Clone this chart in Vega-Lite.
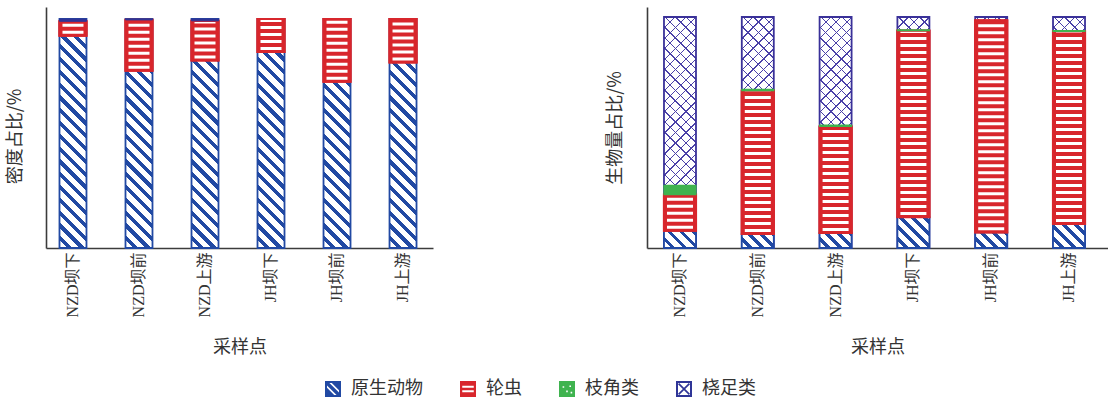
{
  "$schema": "https://vega.github.io/schema/vega-lite/v6.json",
  "background": "white",
  "padding": {"left": 6, "top": 7, "right": 0, "bottom": 0},
  "datasets": {
    "density": [
      {"site": "NZD坝下", "taxon": "原生动物", "value": 92.7},
      {"site": "NZD坝下", "taxon": "轮虫", "value": 6.3},
      {"site": "NZD坝下", "taxon": "桡足类", "value": 1.0},
      {"site": "NZD坝前", "taxon": "原生动物", "value": 77.4},
      {"site": "NZD坝前", "taxon": "轮虫", "value": 22.2},
      {"site": "NZD坝前", "taxon": "桡足类", "value": 0.4},
      {"site": "NZD上游", "taxon": "原生动物", "value": 81.9},
      {"site": "NZD上游", "taxon": "轮虫", "value": 17.3},
      {"site": "NZD上游", "taxon": "桡足类", "value": 0.8},
      {"site": "JH坝下", "taxon": "原生动物", "value": 85.6},
      {"site": "JH坝下", "taxon": "轮虫", "value": 14.4},
      {"site": "JH坝前", "taxon": "原生动物", "value": 72.6},
      {"site": "JH坝前", "taxon": "轮虫", "value": 27.4},
      {"site": "JH上游", "taxon": "原生动物", "value": 81.0},
      {"site": "JH上游", "taxon": "轮虫", "value": 19.0}
    ],
    "biomass": [
      {"site": "NZD坝下", "taxon": "原生动物", "value": 7.5},
      {"site": "NZD坝下", "taxon": "轮虫", "value": 15.6},
      {"site": "NZD坝下", "taxon": "枝角类", "value": 4.0},
      {"site": "NZD坝下", "taxon": "桡足类", "value": 72.9},
      {"site": "NZD坝前", "taxon": "原生动物", "value": 6.1},
      {"site": "NZD坝前", "taxon": "轮虫", "value": 62.0},
      {"site": "NZD坝前", "taxon": "枝角类", "value": 0.6},
      {"site": "NZD坝前", "taxon": "桡足类", "value": 31.3},
      {"site": "NZD上游", "taxon": "原生动物", "value": 6.5},
      {"site": "NZD上游", "taxon": "轮虫", "value": 46.1},
      {"site": "NZD上游", "taxon": "枝角类", "value": 0.6},
      {"site": "NZD上游", "taxon": "桡足类", "value": 46.8},
      {"site": "JH坝下", "taxon": "原生动物", "value": 13.4},
      {"site": "JH坝下", "taxon": "轮虫", "value": 80.7},
      {"site": "JH坝下", "taxon": "枝角类", "value": 0.3},
      {"site": "JH坝下", "taxon": "桡足类", "value": 5.6},
      {"site": "JH坝前", "taxon": "原生动物", "value": 6.8},
      {"site": "JH坝前", "taxon": "轮虫", "value": 91.7},
      {"site": "JH坝前", "taxon": "桡足类", "value": 1.5},
      {"site": "JH上游", "taxon": "原生动物", "value": 10.4},
      {"site": "JH上游", "taxon": "轮虫", "value": 83.4},
      {"site": "JH上游", "taxon": "枝角类", "value": 0.3},
      {"site": "JH上游", "taxon": "桡足类", "value": 5.9}
    ]
  },
  "spacing": 173,
  "hconcat": [
    {
      "width": 387,
      "height": 241,
      "data": {"name": "density"},
      "transform": [{"stack": "value", "groupby": ["site"], "as": ["v0", "v1"]}],
      "encoding": {
        "x": {
          "field": "site", "type": "nominal", "sort": null,
          "scale": {"paddingInner": 0.591, "paddingOuter": 0.227, "align": 0.45},
          "axis": {"title": "采样点", "labelAngle": 270, "labelPadding": 4, "titlePadding": 22, "labelOverlap": false}
        },
        "y": {
          "field": "v0", "type": "quantitative",
          "scale": {"domain": [0, 105.24], "nice": false},
          "axis": {"title": "密度占比/%", "labels": false, "titlePadding": 22, "titleY": 129}
        }
      },
      "layer": [
        {
          "transform": [{"filter": "datum.taxon === '原生动物'"}],
          "mark": {
            "type": "bar", "width": 27, "stroke": "#2149a3", "strokeWidth": 1.8,
            "fill": {"gradient": "linear", "x1": 0, "y1": 1, "x2": 0.13, "y2": -0.1025, "stops": [
              {"offset": 0, "color": "#ffffff"}, {"offset": 0.03, "color": "#ffffff"}, {"offset": 0.03, "color": "#2149a3"}, {"offset": 0.05, "color": "#2149a3"},
              {"offset": 0.05, "color": "#ffffff"}, {"offset": 0.08, "color": "#ffffff"}, {"offset": 0.08, "color": "#2149a3"}, {"offset": 0.1, "color": "#2149a3"},
              {"offset": 0.1, "color": "#ffffff"}, {"offset": 0.13, "color": "#ffffff"}, {"offset": 0.13, "color": "#2149a3"}, {"offset": 0.15, "color": "#2149a3"},
              {"offset": 0.15, "color": "#ffffff"}, {"offset": 0.18, "color": "#ffffff"}, {"offset": 0.18, "color": "#2149a3"}, {"offset": 0.2, "color": "#2149a3"},
              {"offset": 0.2, "color": "#ffffff"}, {"offset": 0.23, "color": "#ffffff"}, {"offset": 0.23, "color": "#2149a3"}, {"offset": 0.25, "color": "#2149a3"},
              {"offset": 0.25, "color": "#ffffff"}, {"offset": 0.28, "color": "#ffffff"}, {"offset": 0.28, "color": "#2149a3"}, {"offset": 0.3, "color": "#2149a3"},
              {"offset": 0.3, "color": "#ffffff"}, {"offset": 0.33, "color": "#ffffff"}, {"offset": 0.33, "color": "#2149a3"}, {"offset": 0.35, "color": "#2149a3"},
              {"offset": 0.35, "color": "#ffffff"}, {"offset": 0.38, "color": "#ffffff"}, {"offset": 0.38, "color": "#2149a3"}, {"offset": 0.4, "color": "#2149a3"},
              {"offset": 0.4, "color": "#ffffff"}, {"offset": 0.43, "color": "#ffffff"}, {"offset": 0.43, "color": "#2149a3"}, {"offset": 0.45, "color": "#2149a3"},
              {"offset": 0.45, "color": "#ffffff"}, {"offset": 0.48, "color": "#ffffff"}, {"offset": 0.48, "color": "#2149a3"}, {"offset": 0.5, "color": "#2149a3"},
              {"offset": 0.5, "color": "#ffffff"}, {"offset": 0.53, "color": "#ffffff"}, {"offset": 0.53, "color": "#2149a3"}, {"offset": 0.55, "color": "#2149a3"},
              {"offset": 0.55, "color": "#ffffff"}, {"offset": 0.58, "color": "#ffffff"}, {"offset": 0.58, "color": "#2149a3"}, {"offset": 0.6, "color": "#2149a3"},
              {"offset": 0.6, "color": "#ffffff"}, {"offset": 0.63, "color": "#ffffff"}, {"offset": 0.63, "color": "#2149a3"}, {"offset": 0.65, "color": "#2149a3"},
              {"offset": 0.65, "color": "#ffffff"}, {"offset": 0.68, "color": "#ffffff"}, {"offset": 0.68, "color": "#2149a3"}, {"offset": 0.7, "color": "#2149a3"},
              {"offset": 0.7, "color": "#ffffff"}, {"offset": 0.73, "color": "#ffffff"}, {"offset": 0.73, "color": "#2149a3"}, {"offset": 0.75, "color": "#2149a3"},
              {"offset": 0.75, "color": "#ffffff"}, {"offset": 0.78, "color": "#ffffff"}, {"offset": 0.78, "color": "#2149a3"}, {"offset": 0.8, "color": "#2149a3"},
              {"offset": 0.8, "color": "#ffffff"}, {"offset": 0.83, "color": "#ffffff"}, {"offset": 0.83, "color": "#2149a3"}, {"offset": 0.85, "color": "#2149a3"},
              {"offset": 0.85, "color": "#ffffff"}, {"offset": 0.88, "color": "#ffffff"}, {"offset": 0.88, "color": "#2149a3"}, {"offset": 0.9, "color": "#2149a3"},
              {"offset": 0.9, "color": "#ffffff"}, {"offset": 0.93, "color": "#ffffff"}, {"offset": 0.93, "color": "#2149a3"}, {"offset": 0.95, "color": "#2149a3"},
              {"offset": 0.95, "color": "#ffffff"}, {"offset": 0.98, "color": "#ffffff"}, {"offset": 0.98, "color": "#2149a3"}, {"offset": 1, "color": "#2149a3"}
            ]}
          },
          "encoding": {"y2": {"datum": 100}}
        },
        {
          "transform": [{"filter": "datum.taxon === '轮虫'"}],
          "mark": {"type": "bar", "width": 27, "fill": "#d8262c", "stroke": "#d8262c", "strokeWidth": 2},
          "encoding": {"y2": {"field": "v1"}}
        },
        {
          "transform": [{"filter": "datum.taxon === '轮虫'"}],
          "mark": {"type": "rule", "color": "#ffffff", "strokeWidth": 21, "strokeDash": [3, 4], "strokeDashOffset": 5},
          "encoding": {"y2": {"field": "v1"}}
        },
        {
          "transform": [{"filter": "datum.taxon === '轮虫'"}],
          "mark": {"type": "bar", "width": 27, "fill": "#d8262c", "fillOpacity": 0, "stroke": "#d8262c", "strokeWidth": 2.2},
          "encoding": {"y2": {"field": "v1"}}
        },
        {
          "transform": [{"filter": "datum.taxon === '桡足类'"}],
          "mark": {"type": "bar", "width": 27, "fill": "#2f3597", "stroke": "#2f3597", "strokeWidth": 1},
          "encoding": {"y2": {"field": "v1"}}
        },
        {
          "mark": {"type": "point", "filled": true, "opacity": 1, "clip": true, "yOffset": 800},
          "encoding": {
            "fill": {
              "field": "taxon", "type": "nominal",
              "scale": {"domain": ["原生动物", "轮虫", "枝角类", "桡足类"], "range": ["#2149a3", "#d8262c", "#3fb34f", "#2f3597"]},
              "legend": {
                "title": null, "orient": "none", "legendX": 278, "legendY": 373, "direction": "horizontal",
                "symbolSize": 256, "symbolOpacity": 1, "symbolStrokeWidth": 0,
                "labelFont": "Noto Sans CJK SC", "labelFontSize": 18, "labelColor": "#333333", "labelOffset": 9, "columnPadding": 36
              }
            },
            "shape": {
              "field": "taxon", "type": "nominal",
              "scale": {
                "domain": ["原生动物", "轮虫", "枝角类", "桡足类"],
                "range": [
                  "M-1,-1H1V1H-1Z M0.75,0.45L0.75,0.15L-0.15,-0.75L-0.45,-0.75Z M-0.75,-0.45L-0.75,-0.15L0.15,0.75L0.45,0.75Z",
                  "M-1,-1H1V1H-1Z M-0.72,-0.42V-0.16H0.72V-0.42Z M-0.72,0.16V0.42H0.72V0.16Z",
                  "M-1,-1H1V1H-1Z M-0.55,-0.35v0.2h0.2v-0.2Z M0.3,-0.45v0.2h0.2v-0.2Z M-0.1,0.2v0.2h0.2v-0.2Z M0.45,0.35v0.2h0.2v-0.2Z",
                  "M-1,-1H1V1H-1Z M-0.75,-0.75V0.75H0.75V-0.75Z M-0.75,-0.6L-0.6,-0.75L0.75,0.6L0.6,0.75Z M0.6,-0.75L0.75,-0.6L-0.6,0.75L-0.75,0.6Z"
                ]
              }
            }
          }
        }
      ]
    },
    {
      "width": 461,
      "height": 241,
      "data": {"name": "biomass"},
      "transform": [{"stack": "value", "groupby": ["site"], "as": ["v0", "v1"]}],
      "encoding": {
        "x": {
          "field": "site", "type": "nominal", "sort": null,
          "scale": {"paddingInner": 0.589, "paddingOuter": 0.257, "align": 0.425},
          "axis": {"title": "采样点", "labelAngle": 270, "labelPadding": 4, "titlePadding": 22, "labelOverlap": false}
        },
        "y": {
          "field": "v0", "type": "quantitative",
          "scale": {"domain": [0, 104.33], "nice": false},
          "axis": {"title": "生物量占比/%", "labels": false, "titlePadding": 23}
        }
      },
      "layer": [
        {
          "transform": [{"filter": "datum.taxon === '原生动物'"}],
          "mark": {
            "type": "bar", "width": 32, "strokeWidth": 0,
            "fill": {"gradient": "linear", "x1": 0, "y1": 1, "x2": 0.15475, "y2": -0.11711, "stops": [
              {"offset": 0, "color": "#4a40a8"}, {"offset": 0.005, "color": "#4a40a8"}, {"offset": 0.005, "color": "#ffffff"}, {"offset": 0.04, "color": "#ffffff"},
              {"offset": 0.04, "color": "#4a40a8"}, {"offset": 0.045, "color": "#4a40a8"}, {"offset": 0.045, "color": "#ffffff"}, {"offset": 0.08, "color": "#ffffff"},
              {"offset": 0.08, "color": "#4a40a8"}, {"offset": 0.085, "color": "#4a40a8"}, {"offset": 0.085, "color": "#ffffff"}, {"offset": 0.12, "color": "#ffffff"},
              {"offset": 0.12, "color": "#4a40a8"}, {"offset": 0.125, "color": "#4a40a8"}, {"offset": 0.125, "color": "#ffffff"}, {"offset": 0.16, "color": "#ffffff"},
              {"offset": 0.16, "color": "#4a40a8"}, {"offset": 0.165, "color": "#4a40a8"}, {"offset": 0.165, "color": "#ffffff"}, {"offset": 0.2, "color": "#ffffff"},
              {"offset": 0.2, "color": "#4a40a8"}, {"offset": 0.205, "color": "#4a40a8"}, {"offset": 0.205, "color": "#ffffff"}, {"offset": 0.24, "color": "#ffffff"},
              {"offset": 0.24, "color": "#4a40a8"}, {"offset": 0.245, "color": "#4a40a8"}, {"offset": 0.245, "color": "#ffffff"}, {"offset": 0.28, "color": "#ffffff"},
              {"offset": 0.28, "color": "#4a40a8"}, {"offset": 0.285, "color": "#4a40a8"}, {"offset": 0.285, "color": "#ffffff"}, {"offset": 0.32, "color": "#ffffff"},
              {"offset": 0.32, "color": "#4a40a8"}, {"offset": 0.325, "color": "#4a40a8"}, {"offset": 0.325, "color": "#ffffff"}, {"offset": 0.36, "color": "#ffffff"},
              {"offset": 0.36, "color": "#4a40a8"}, {"offset": 0.365, "color": "#4a40a8"}, {"offset": 0.365, "color": "#ffffff"}, {"offset": 0.4, "color": "#ffffff"},
              {"offset": 0.4, "color": "#4a40a8"}, {"offset": 0.405, "color": "#4a40a8"}, {"offset": 0.405, "color": "#ffffff"}, {"offset": 0.44, "color": "#ffffff"},
              {"offset": 0.44, "color": "#4a40a8"}, {"offset": 0.445, "color": "#4a40a8"}, {"offset": 0.445, "color": "#ffffff"}, {"offset": 0.48, "color": "#ffffff"},
              {"offset": 0.48, "color": "#4a40a8"}, {"offset": 0.485, "color": "#4a40a8"}, {"offset": 0.485, "color": "#ffffff"}, {"offset": 0.52, "color": "#ffffff"},
              {"offset": 0.52, "color": "#4a40a8"}, {"offset": 0.525, "color": "#4a40a8"}, {"offset": 0.525, "color": "#ffffff"}, {"offset": 0.56, "color": "#ffffff"},
              {"offset": 0.56, "color": "#4a40a8"}, {"offset": 0.565, "color": "#4a40a8"}, {"offset": 0.565, "color": "#ffffff"}, {"offset": 0.6, "color": "#ffffff"},
              {"offset": 0.6, "color": "#4a40a8"}, {"offset": 0.605, "color": "#4a40a8"}, {"offset": 0.605, "color": "#ffffff"}, {"offset": 0.64, "color": "#ffffff"},
              {"offset": 0.64, "color": "#4a40a8"}, {"offset": 0.645, "color": "#4a40a8"}, {"offset": 0.645, "color": "#ffffff"}, {"offset": 0.68, "color": "#ffffff"},
              {"offset": 0.68, "color": "#4a40a8"}, {"offset": 0.685, "color": "#4a40a8"}, {"offset": 0.685, "color": "#ffffff"}, {"offset": 0.72, "color": "#ffffff"},
              {"offset": 0.72, "color": "#4a40a8"}, {"offset": 0.725, "color": "#4a40a8"}, {"offset": 0.725, "color": "#ffffff"}, {"offset": 0.76, "color": "#ffffff"},
              {"offset": 0.76, "color": "#4a40a8"}, {"offset": 0.765, "color": "#4a40a8"}, {"offset": 0.765, "color": "#ffffff"}, {"offset": 0.8, "color": "#ffffff"},
              {"offset": 0.8, "color": "#4a40a8"}, {"offset": 0.805, "color": "#4a40a8"}, {"offset": 0.805, "color": "#ffffff"}, {"offset": 0.84, "color": "#ffffff"},
              {"offset": 0.84, "color": "#4a40a8"}, {"offset": 0.845, "color": "#4a40a8"}, {"offset": 0.845, "color": "#ffffff"}, {"offset": 0.88, "color": "#ffffff"},
              {"offset": 0.88, "color": "#4a40a8"}, {"offset": 0.885, "color": "#4a40a8"}, {"offset": 0.885, "color": "#ffffff"}, {"offset": 0.92, "color": "#ffffff"},
              {"offset": 0.92, "color": "#4a40a8"}, {"offset": 0.925, "color": "#4a40a8"}, {"offset": 0.925, "color": "#ffffff"}, {"offset": 0.96, "color": "#ffffff"},
              {"offset": 0.96, "color": "#4a40a8"}, {"offset": 0.965, "color": "#4a40a8"}, {"offset": 0.965, "color": "#ffffff"}, {"offset": 1, "color": "#ffffff"}
            ]}
          },
          "encoding": {"y2": {"datum": 100}}
        },
        {
          "transform": [{"filter": "datum.taxon === '原生动物'"}],
          "mark": {
            "type": "bar", "width": 32, "stroke": "#3a3199", "strokeWidth": 1.8,
            "fill": {"gradient": "linear", "x1": 0, "y1": 0, "x2": 0.15475, "y2": 1.11711, "stops": [
              {"offset": 0, "color": "#4a40a8"}, {"offset": 0.005, "color": "#4a40a8"}, {"offset": 0.005, "color": "rgba(255,255,255,0)"}, {"offset": 0.04, "color": "rgba(255,255,255,0)"},
              {"offset": 0.04, "color": "#4a40a8"}, {"offset": 0.045, "color": "#4a40a8"}, {"offset": 0.045, "color": "rgba(255,255,255,0)"}, {"offset": 0.08, "color": "rgba(255,255,255,0)"},
              {"offset": 0.08, "color": "#4a40a8"}, {"offset": 0.085, "color": "#4a40a8"}, {"offset": 0.085, "color": "rgba(255,255,255,0)"}, {"offset": 0.12, "color": "rgba(255,255,255,0)"},
              {"offset": 0.12, "color": "#4a40a8"}, {"offset": 0.125, "color": "#4a40a8"}, {"offset": 0.125, "color": "rgba(255,255,255,0)"}, {"offset": 0.16, "color": "rgba(255,255,255,0)"},
              {"offset": 0.16, "color": "#4a40a8"}, {"offset": 0.165, "color": "#4a40a8"}, {"offset": 0.165, "color": "rgba(255,255,255,0)"}, {"offset": 0.2, "color": "rgba(255,255,255,0)"},
              {"offset": 0.2, "color": "#4a40a8"}, {"offset": 0.205, "color": "#4a40a8"}, {"offset": 0.205, "color": "rgba(255,255,255,0)"}, {"offset": 0.24, "color": "rgba(255,255,255,0)"},
              {"offset": 0.24, "color": "#4a40a8"}, {"offset": 0.245, "color": "#4a40a8"}, {"offset": 0.245, "color": "rgba(255,255,255,0)"}, {"offset": 0.28, "color": "rgba(255,255,255,0)"},
              {"offset": 0.28, "color": "#4a40a8"}, {"offset": 0.285, "color": "#4a40a8"}, {"offset": 0.285, "color": "rgba(255,255,255,0)"}, {"offset": 0.32, "color": "rgba(255,255,255,0)"},
              {"offset": 0.32, "color": "#4a40a8"}, {"offset": 0.325, "color": "#4a40a8"}, {"offset": 0.325, "color": "rgba(255,255,255,0)"}, {"offset": 0.36, "color": "rgba(255,255,255,0)"},
              {"offset": 0.36, "color": "#4a40a8"}, {"offset": 0.365, "color": "#4a40a8"}, {"offset": 0.365, "color": "rgba(255,255,255,0)"}, {"offset": 0.4, "color": "rgba(255,255,255,0)"},
              {"offset": 0.4, "color": "#4a40a8"}, {"offset": 0.405, "color": "#4a40a8"}, {"offset": 0.405, "color": "rgba(255,255,255,0)"}, {"offset": 0.44, "color": "rgba(255,255,255,0)"},
              {"offset": 0.44, "color": "#4a40a8"}, {"offset": 0.445, "color": "#4a40a8"}, {"offset": 0.445, "color": "rgba(255,255,255,0)"}, {"offset": 0.48, "color": "rgba(255,255,255,0)"},
              {"offset": 0.48, "color": "#4a40a8"}, {"offset": 0.485, "color": "#4a40a8"}, {"offset": 0.485, "color": "rgba(255,255,255,0)"}, {"offset": 0.52, "color": "rgba(255,255,255,0)"},
              {"offset": 0.52, "color": "#4a40a8"}, {"offset": 0.525, "color": "#4a40a8"}, {"offset": 0.525, "color": "rgba(255,255,255,0)"}, {"offset": 0.56, "color": "rgba(255,255,255,0)"},
              {"offset": 0.56, "color": "#4a40a8"}, {"offset": 0.565, "color": "#4a40a8"}, {"offset": 0.565, "color": "rgba(255,255,255,0)"}, {"offset": 0.6, "color": "rgba(255,255,255,0)"},
              {"offset": 0.6, "color": "#4a40a8"}, {"offset": 0.605, "color": "#4a40a8"}, {"offset": 0.605, "color": "rgba(255,255,255,0)"}, {"offset": 0.64, "color": "rgba(255,255,255,0)"},
              {"offset": 0.64, "color": "#4a40a8"}, {"offset": 0.645, "color": "#4a40a8"}, {"offset": 0.645, "color": "rgba(255,255,255,0)"}, {"offset": 0.68, "color": "rgba(255,255,255,0)"},
              {"offset": 0.68, "color": "#4a40a8"}, {"offset": 0.685, "color": "#4a40a8"}, {"offset": 0.685, "color": "rgba(255,255,255,0)"}, {"offset": 0.72, "color": "rgba(255,255,255,0)"},
              {"offset": 0.72, "color": "#4a40a8"}, {"offset": 0.725, "color": "#4a40a8"}, {"offset": 0.725, "color": "rgba(255,255,255,0)"}, {"offset": 0.76, "color": "rgba(255,255,255,0)"},
              {"offset": 0.76, "color": "#4a40a8"}, {"offset": 0.765, "color": "#4a40a8"}, {"offset": 0.765, "color": "rgba(255,255,255,0)"}, {"offset": 0.8, "color": "rgba(255,255,255,0)"},
              {"offset": 0.8, "color": "#4a40a8"}, {"offset": 0.805, "color": "#4a40a8"}, {"offset": 0.805, "color": "rgba(255,255,255,0)"}, {"offset": 0.84, "color": "rgba(255,255,255,0)"},
              {"offset": 0.84, "color": "#4a40a8"}, {"offset": 0.845, "color": "#4a40a8"}, {"offset": 0.845, "color": "rgba(255,255,255,0)"}, {"offset": 0.88, "color": "rgba(255,255,255,0)"},
              {"offset": 0.88, "color": "#4a40a8"}, {"offset": 0.885, "color": "#4a40a8"}, {"offset": 0.885, "color": "rgba(255,255,255,0)"}, {"offset": 0.92, "color": "rgba(255,255,255,0)"},
              {"offset": 0.92, "color": "#4a40a8"}, {"offset": 0.925, "color": "#4a40a8"}, {"offset": 0.925, "color": "rgba(255,255,255,0)"}, {"offset": 0.96, "color": "rgba(255,255,255,0)"},
              {"offset": 0.96, "color": "#4a40a8"}, {"offset": 0.965, "color": "#4a40a8"}, {"offset": 0.965, "color": "rgba(255,255,255,0)"}, {"offset": 1, "color": "rgba(255,255,255,0)"}
            ]}
          },
          "encoding": {"y2": {"datum": 100}}
        },
        {
          "transform": [{"filter": "datum.taxon === '原生动物'"}],
          "mark": {"type": "bar", "width": 32, "stroke": "#2149a3", "strokeWidth": 1.8},
          "encoding": {
            "y2": {"field": "v1"},
            "fill": {
              "condition": [
                {"test": "datum.site === 'NZD坝下'", "value": {"gradient": "linear", "x1": 0, "y1": 1, "x2": 1.192, "y2": 0.3544, "stops": [
                  {"offset": 0, "color": "#ffffff"}, {"offset": 0.146, "color": "#ffffff"}, {"offset": 0.146, "color": "#2149a3"}, {"offset": 0.2433, "color": "#2149a3"},
                  {"offset": 0.2433, "color": "#ffffff"}, {"offset": 0.3893, "color": "#ffffff"}, {"offset": 0.3893, "color": "#2149a3"}, {"offset": 0.4866, "color": "#2149a3"},
                  {"offset": 0.4866, "color": "#ffffff"}, {"offset": 0.6326, "color": "#ffffff"}, {"offset": 0.6326, "color": "#2149a3"}, {"offset": 0.7299, "color": "#2149a3"},
                  {"offset": 0.7299, "color": "#ffffff"}, {"offset": 0.8759, "color": "#ffffff"}, {"offset": 0.8759, "color": "#2149a3"}, {"offset": 0.9732, "color": "#2149a3"},
                  {"offset": 0.9732, "color": "#ffffff"}, {"offset": 1, "color": "#ffffff"}
                ]}},
                {"test": "datum.site === 'NZD坝前'", "value": {"gradient": "linear", "x1": 0, "y1": 1, "x2": 1.2064, "y2": 0.4688, "stops": [
                  {"offset": 0, "color": "#ffffff"}, {"offset": 0.1562, "color": "#ffffff"}, {"offset": 0.1562, "color": "#2149a3"}, {"offset": 0.2604, "color": "#2149a3"},
                  {"offset": 0.2604, "color": "#ffffff"}, {"offset": 0.4166, "color": "#ffffff"}, {"offset": 0.4166, "color": "#2149a3"}, {"offset": 0.5208, "color": "#2149a3"},
                  {"offset": 0.5208, "color": "#ffffff"}, {"offset": 0.677, "color": "#ffffff"}, {"offset": 0.677, "color": "#2149a3"}, {"offset": 0.7812, "color": "#2149a3"},
                  {"offset": 0.7812, "color": "#ffffff"}, {"offset": 0.9374, "color": "#ffffff"}, {"offset": 0.9374, "color": "#2149a3"}, {"offset": 1, "color": "#2149a3"}
                ]}},
                {"test": "datum.site === 'NZD上游'", "value": {"gradient": "linear", "x1": 0, "y1": 1, "x2": 1.2041, "y2": 0.4348, "stops": [
                  {"offset": 0, "color": "#ffffff"}, {"offset": 0.1531, "color": "#ffffff"}, {"offset": 0.1531, "color": "#2149a3"}, {"offset": 0.2552, "color": "#2149a3"},
                  {"offset": 0.2552, "color": "#ffffff"}, {"offset": 0.4083, "color": "#ffffff"}, {"offset": 0.4083, "color": "#2149a3"}, {"offset": 0.5104, "color": "#2149a3"},
                  {"offset": 0.5104, "color": "#ffffff"}, {"offset": 0.6635, "color": "#ffffff"}, {"offset": 0.6635, "color": "#2149a3"}, {"offset": 0.7656, "color": "#2149a3"},
                  {"offset": 0.7656, "color": "#ffffff"}, {"offset": 0.9187, "color": "#ffffff"}, {"offset": 0.9187, "color": "#2149a3"}, {"offset": 1, "color": "#2149a3"}
                ]}},
                {"test": "datum.site === 'JH坝下'", "value": {"gradient": "linear", "x1": 0, "y1": 1, "x2": 1.0164, "y2": 0.0169, "stops": [
                  {"offset": 0, "color": "#ffffff"}, {"offset": 0.1144, "color": "#ffffff"}, {"offset": 0.1144, "color": "#2149a3"}, {"offset": 0.1906, "color": "#2149a3"},
                  {"offset": 0.1906, "color": "#ffffff"}, {"offset": 0.305, "color": "#ffffff"}, {"offset": 0.305, "color": "#2149a3"}, {"offset": 0.3812, "color": "#2149a3"},
                  {"offset": 0.3812, "color": "#ffffff"}, {"offset": 0.4956, "color": "#ffffff"}, {"offset": 0.4956, "color": "#2149a3"}, {"offset": 0.5718, "color": "#2149a3"},
                  {"offset": 0.5718, "color": "#ffffff"}, {"offset": 0.6862, "color": "#ffffff"}, {"offset": 0.6862, "color": "#2149a3"}, {"offset": 0.7624, "color": "#2149a3"},
                  {"offset": 0.7624, "color": "#ffffff"}, {"offset": 0.8768, "color": "#ffffff"}, {"offset": 0.8768, "color": "#2149a3"}, {"offset": 0.953, "color": "#2149a3"},
                  {"offset": 0.953, "color": "#ffffff"}, {"offset": 1, "color": "#ffffff"}
                ]}},
                {"test": "datum.site === 'JH坝前'", "value": {"gradient": "linear", "x1": 0, "y1": 1, "x2": 1.2014, "y2": 0.4102, "stops": [
                  {"offset": 0, "color": "#ffffff"}, {"offset": 0.1509, "color": "#ffffff"}, {"offset": 0.1509, "color": "#2149a3"}, {"offset": 0.2515, "color": "#2149a3"},
                  {"offset": 0.2515, "color": "#ffffff"}, {"offset": 0.4024, "color": "#ffffff"}, {"offset": 0.4024, "color": "#2149a3"}, {"offset": 0.503, "color": "#2149a3"},
                  {"offset": 0.503, "color": "#ffffff"}, {"offset": 0.6539, "color": "#ffffff"}, {"offset": 0.6539, "color": "#2149a3"}, {"offset": 0.7545, "color": "#2149a3"},
                  {"offset": 0.7545, "color": "#ffffff"}, {"offset": 0.9054, "color": "#ffffff"}, {"offset": 0.9054, "color": "#2149a3"}, {"offset": 1, "color": "#2149a3"}
                ]}},
                {"test": "datum.site === 'JH上游'", "value": {"gradient": "linear", "x1": 0, "y1": 1, "x2": 1.1197, "y2": 0.1595, "stops": [
                  {"offset": 0, "color": "#ffffff"}, {"offset": 0.1285, "color": "#ffffff"}, {"offset": 0.1285, "color": "#2149a3"}, {"offset": 0.2142, "color": "#2149a3"},
                  {"offset": 0.2142, "color": "#ffffff"}, {"offset": 0.3427, "color": "#ffffff"}, {"offset": 0.3427, "color": "#2149a3"}, {"offset": 0.4284, "color": "#2149a3"},
                  {"offset": 0.4284, "color": "#ffffff"}, {"offset": 0.5569, "color": "#ffffff"}, {"offset": 0.5569, "color": "#2149a3"}, {"offset": 0.6426, "color": "#2149a3"},
                  {"offset": 0.6426, "color": "#ffffff"}, {"offset": 0.7711, "color": "#ffffff"}, {"offset": 0.7711, "color": "#2149a3"}, {"offset": 0.8568, "color": "#2149a3"},
                  {"offset": 0.8568, "color": "#ffffff"}, {"offset": 0.9853, "color": "#ffffff"}, {"offset": 0.9853, "color": "#2149a3"}, {"offset": 1, "color": "#2149a3"}
                ]}}
              ],
              "value": "#2149a3"
            }
          }
        },
        {
          "transform": [{"filter": "datum.taxon === '轮虫'"}],
          "mark": {"type": "bar", "width": 32, "fill": "#d8262c", "stroke": "#d8262c", "strokeWidth": 2},
          "encoding": {"y2": {"field": "v1"}}
        },
        {
          "transform": [{"filter": "datum.taxon === '轮虫'"}],
          "mark": {"type": "rule", "color": "#ffffff", "strokeWidth": 26, "strokeDash": [3, 4], "strokeDashOffset": 5},
          "encoding": {"y2": {"field": "v1"}}
        },
        {
          "transform": [{"filter": "datum.taxon === '轮虫'"}],
          "mark": {"type": "bar", "width": 32, "fill": "#d8262c", "fillOpacity": 0, "stroke": "#d8262c", "strokeWidth": 2.2},
          "encoding": {"y2": {"field": "v1"}}
        },
        {
          "transform": [{"filter": "datum.taxon === '枝角类'"}],
          "mark": {"type": "bar", "width": 32, "fill": "#3fb34f", "stroke": "#3fb34f", "strokeWidth": 1.2},
          "encoding": {"y2": {"field": "v1"}}
        }
      ]
    }
  ],
  "config": {
    "view": {"stroke": null},
    "axis": {
      "domainColor": "#3c3c3c", "domainWidth": 1.6, "ticks": false, "grid": false,
      "labelFont": "Liberation Serif, Noto Sans CJK SC", "labelFontSize": 16, "labelColor": "#333333",
      "titleFont": "Noto Sans CJK SC", "titleFontSize": 18, "titleFontWeight": "normal", "titleColor": "#333333"
    }
  }
}
